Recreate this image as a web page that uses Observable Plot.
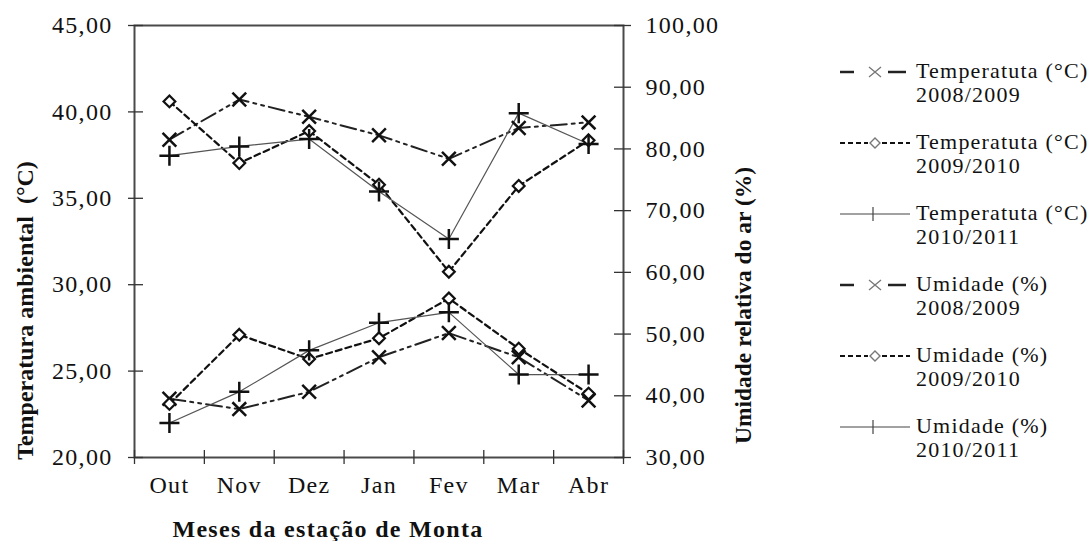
<!DOCTYPE html>
<html>
<head>
<meta charset="utf-8">
<script src="https://cdn.jsdelivr.net/npm/d3@7"></script>
<script src="https://cdn.jsdelivr.net/npm/@observablehq/plot@0.6"></script>
<style>
  html, body { margin: 0; padding: 0; background: #fff; }
  #wrap { position: relative; width: 1091px; height: 541px; overflow: hidden; }
  #legend { position: absolute; left: 0; top: 0; width: 1091px; height: 541px; pointer-events: none;
            font-family: "Liberation Serif", "Times New Roman", serif; color: #111; }
  .lg-sym { position: absolute; }
  .lg-txt { position: absolute; font-size: 22px; line-height: 24px; letter-spacing: 1.2px; white-space: nowrap; }
</style>
</head>
<body>
<div id="wrap"><div id="chart"></div><div id="legend"></div></div>
<script>
// ---- data ----
const months = ["Out", "Nov", "Dez", "Jan", "Fev", "Mar", "Abr"];

// Temperatura ambiental (°C) – left axis
const temp0809 = [23.4, 22.8, 23.8, 25.8, 27.2, 25.8, 23.3];
const temp0910 = [23.1, 27.1, 25.7, 26.9, 29.2, 26.3, 23.7];
const temp1011 = [22.0, 23.8, 26.2, 27.8, 28.4, 24.8, 24.8];

// Umidade relativa do ar (%) – right axis
const hum0809 = [81.5, 88.0, 85.2, 82.2, 78.4, 83.4, 84.3];
const hum0910 = [87.7, 77.7, 82.9, 74.2, 60.1, 74.0, 81.4];
const hum1011 = [78.9, 80.4, 81.6, 73.1, 65.4, 85.8, 80.8];

const leftTicks = [20, 25, 30, 35, 40, 45];
const rightTicks = [30, 40, 50, 60, 70, 80, 90, 100];

const legendLines = [
  ["Temperatuta (°C)", "2008/2009"],
  ["Temperatuta (°C)", "2009/2010"],
  ["Temperatuta (°C)", "2010/2011"],
  ["Umidade (%)", "2008/2009"],
  ["Umidade (%)", "2009/2010"],
  ["Umidade (%)", "2010/2011"]
];

const titleLeft = "Temperatura ambiental  (°C)";
const titleRight = "Umidade relativa do ar (%)";
const titleX = "Meses da estação de Monta";

// ---- mapping of the right axis onto the left one ----
const leftDomain = [20, 45], rightDomain = [30, 100];
const toLeft = h => leftDomain[0] + (h - rightDomain[0]) * (leftDomain[1] - leftDomain[0]) / (rightDomain[1] - rightDomain[0]);
const fromLeft = t => rightDomain[0] + (t - leftDomain[0]) * (rightDomain[1] - rightDomain[0]) / (leftDomain[1] - leftDomain[0]);
const fmt = v => v.toFixed(2).replace(".", ",");

const series = [
  {key: "t0809", values: temp0809, axis: "left", kind: "times"},
  {key: "t0910", values: temp0910, axis: "left", kind: "diamond"},
  {key: "t1011", values: temp1011, axis: "left", kind: "plus"},
  {key: "h0809", values: hum0809, axis: "right", kind: "times"},
  {key: "h0910", values: hum0910, axis: "right", kind: "diamond"},
  {key: "h1011", values: hum1011, axis: "right", kind: "plus"}
];

const kindStyle = {
  times: {
    line: {stroke: "#222", strokeWidth: 2, strokeDasharray: "16,5,3,5,3,5"},
    dot: {symbol: "times", r: 6.3, stroke: "#111", strokeWidth: 2.5, fill: "none"}
  },
  diamond: {
    line: {stroke: "#111", strokeWidth: 2.2, strokeDasharray: "6,4"},
    dot: {symbol: "diamond2", r: 5.3, stroke: "#111", strokeWidth: 2.2, fill: "white"}
  },
  plus: {
    line: {stroke: "#555", strokeWidth: 1.2},
    dot: {symbol: "plus", r: 6.5, stroke: "#111", strokeWidth: 2.5, fill: "none"}
  }
};

const rowsOf = s => s.values.map((v, i) => ({
  key: s.key, xi: i + 0.5, y: s.axis === "left" ? v : toLeft(v)
}));

const lineMarks = series.map(s =>
  Plot.line(rowsOf(s), {x: "xi", y: "y", ...kindStyle[s.kind].line}));
const dotMarks = series.map(s =>
  Plot.dot(rowsOf(s), {x: "xi", y: "y", ...kindStyle[s.kind].dot}));

const catEdges = d3.range(months.length + 1);

const chart = Plot.plot({
  width: 1091,
  height: 541,
  marginLeft: 134,
  marginRight: 468,
  marginTop: 25,
  marginBottom: 84,
  x: {domain: [0, months.length]},
  y: {domain: leftDomain},
  style: {
    fontFamily: "'Liberation Serif', 'Times New Roman', serif",
    fontSize: "24px",
    letterSpacing: "1.3px",
    color: "#111",
    background: "#fff"
  },
  marks: [
    Plot.frame({stroke: "#4a4a4a", strokeWidth: 2}),
    // crossing tick marks
    Plot.ruleY(leftTicks, {y: d => d, x1: 0, x2: 0, insetLeft: -6, insetRight: -9, stroke: "#333", strokeWidth: 1.3}),
    Plot.ruleY(rightTicks.map(toLeft), {y: d => d, x1: months.length, x2: months.length, insetLeft: -9, insetRight: -8, stroke: "#333", strokeWidth: 1.3}),
    Plot.ruleX(catEdges, {x: d => d, y1: leftDomain[0], y2: leftDomain[0], insetTop: -7, insetBottom: -7, stroke: "#333", strokeWidth: 1.3}),
    // tick labels
    Plot.axisY(leftTicks, {anchor: "left", tickSize: 0, tickPadding: 22, tickFormat: fmt, label: null, fill: "#111"}),
    Plot.axisY(rightTicks.map(toLeft), {anchor: "right", tickSize: 0, tickPadding: 22,
      tickFormat: t => fmt(Math.round(fromLeft(t))), label: null, fill: "#111"}),
    Plot.axisX(months.map((m, i) => i + 0.5), {anchor: "bottom", tickSize: 0, tickPadding: 18,
      tickFormat: d => months[Math.floor(d)], label: null, fill: "#111"}),
    // axis titles
    Plot.text([titleLeft], {text: d => d, frameAnchor: "left", dx: -109, dy: 69, rotate: -90,
      fontWeight: "bold", fontSize: 24, textAnchor: "middle", lineAnchor: "middle", fill: "#111"}),
    Plot.text([titleRight], {text: d => d, frameAnchor: "right", dx: 120, dy: 64, rotate: -90,
      fontWeight: "bold", fontSize: 23.5, textAnchor: "middle", lineAnchor: "middle", fill: "#111"}),
    Plot.text([titleX], {text: d => d, frameAnchor: "bottom", dx: -51, dy: 72,
      fontWeight: "bold", fontSize: 24, textAnchor: "middle", lineAnchor: "middle", fill: "#111"}),
    ...lineMarks,
    ...dotMarks
  ]
});
// the vertical titles are set without extra letter spacing
chart.querySelectorAll("text").forEach(t => {
  if (t.textContent === titleLeft || t.textContent === titleRight) t.style.letterSpacing = "0px";
});
document.getElementById("chart").appendChild(chart);

// ---- legend (HTML overlay on the right) ----
const legend = document.getElementById("legend");
const symSvg = {
  times: `<line x1="2" y1="10" x2="16" y2="10" stroke="#222" stroke-width="2.5"/>
          <line x1="50" y1="10" x2="68" y2="10" stroke="#222" stroke-width="2.5"/>
          <path d="M31,5L43,15M31,15L43,5" stroke="#777" stroke-width="1.3" fill="none"/>`,
  diamond: `<line x1="2" y1="10" x2="30" y2="10" stroke="#111" stroke-width="2" stroke-dasharray="5,3"/>
            <line x1="44" y1="10" x2="72" y2="10" stroke="#111" stroke-width="2" stroke-dasharray="5,3"/>
            <path d="M37,5L42,10L37,15L32,10Z" stroke="#777" stroke-width="1.4" fill="#fff"/>`,
  plus: `<line x1="2" y1="10" x2="72" y2="10" stroke="#444" stroke-width="1.2"/>
         <line x1="35" y1="3" x2="35" y2="17" stroke="#444" stroke-width="1.2"/>`
};
series.forEach((s, k) => {
  const yLine = 72 + 71 * k;
  const sym = document.createElement("div");
  sym.className = "lg-sym";
  sym.style.left = "838px";
  sym.style.top = (yLine - 10) + "px";
  sym.innerHTML = `<svg width="74" height="20" viewBox="0 0 74 20">${symSvg[s.kind]}</svg>`;
  legend.appendChild(sym);
  const txt = document.createElement("div");
  txt.className = "lg-txt";
  txt.style.left = "916px";
  txt.style.top = (yLine - 13) + "px";
  txt.innerHTML = legendLines[k][0] + "<br>" + legendLines[k][1];
  legend.appendChild(txt);
});
</script>
</body>
</html>
